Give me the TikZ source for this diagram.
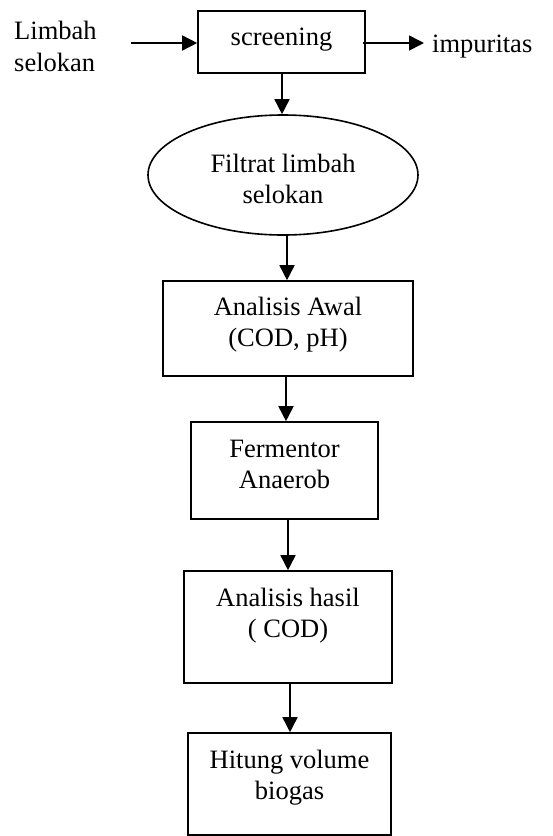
\documentclass[tikz,border=0pt]{standalone}
\usepackage{fontspec}
\setmainfont{Liberation Serif}
\usetikzlibrary{arrows.meta,shapes.geometric}
\begin{document}
\begin{tikzpicture}[x=1pt,y=-1pt,
  every node/.style={font=\fontsize{26.5}{31.5}\selectfont},
  box/.style={draw,line width=1.6pt,inner sep=0pt},
  txt/.style={inner sep=0pt,align=center,anchor=north},
  arr/.style={line width=1.6pt,-{Triangle[length=15pt,width=15pt]}}]
\useasboundingbox (0,0) rectangle (553,836);
% boxes
\node[box,minimum width=167pt,minimum height=62pt] (scr) at (281.5,42) {};
\node[box,ellipse,minimum width=270pt,minimum height=120pt] (ell) at (283,175) {};
\node[box,minimum width=250pt,minimum height=95pt] (aw) at (288,328.5) {};
\node[box,minimum width=187pt,minimum height=97pt] (fe) at (284.5,470.5) {};
\node[box,minimum width=208pt,minimum height=112pt] (ha) at (288,627) {};
\node[box,minimum width=203pt,minimum height=102pt] (hi) at (289.5,784) {};
% texts
\node[txt,anchor=north west,align=left] (lim) at (14,17.5) {\strut Limbah\\\strut selokan};
\node[txt] (scrt) at (scr.center |- 0,23) {\strut screening};
\node[txt,anchor=north west] (imp) at (432,30) {\strut impuritas};
\node[txt] (ellt) at (ell.center |- 0,150) {\strut Filtrat limbah\\\strut selokan};
\node[txt] (awt) at (aw.center |- 0,293) {\strut Analisis Awal\\\strut (COD, pH)};
\node[txt] (fet) at (fe.center |- 0,435) {\strut Fermentor\\\strut Anaerob};
\node[txt] (hat) at (ha.center |- 0,584) {\strut Analisis hasil\\\strut ( COD)};
\node[txt] (hit) at (hi.center |- 0,746) {\strut Hitung volume\\\strut biogas};
% connectors
\coordinate (in) at (131,43);
\coordinate (out) at (424,43);
\draw[arr] (in) -- (in -| scr.west);
\draw[arr] ([xshift=-3pt]scr.east |- in) -- (out);
\draw[arr] (scr.south -| 282,0) -- (ell.north -| 282,0);
\draw[arr] (ell.south -| 287,0) -- (aw.north -| 287,0);
\draw[arr] (aw.south -| 286,0) -- (fe.north -| 286,0);
\draw[arr] (fe.south -| 288,0) -- (ha.north -| 288,0);
\draw[arr] (ha.south -| 290,0) -- (hi.north -| 290,0);
\end{tikzpicture}
\end{document}
